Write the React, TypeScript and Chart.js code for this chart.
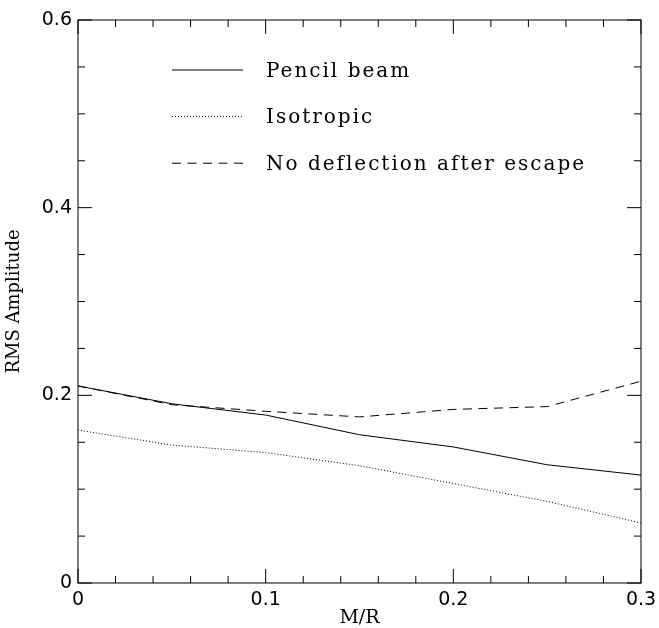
import React, { useEffect, useRef } from "react";
import { Chart, registerables } from "chart.js";

Chart.register(...registerables);

// ---- data ----
const mr = [0, 0.05, 0.1, 0.15, 0.2, 0.25, 0.3];
const pencilBeam = [0.21, 0.191, 0.179, 0.158, 0.145, 0.126, 0.115];
const isotropic = [0.163, 0.147, 0.139, 0.125, 0.106, 0.087, 0.064];
const noDeflection = [0.21, 0.19, 0.183, 0.177, 0.185, 0.188, 0.215];
const seriesNames = ["Pencil beam", "Isotropic", "No deflection after escape"];
const xTickLabels = ["0", "0.1", "0.2", "0.3"];
const yTickLabels = ["0", "0.2", "0.4", "0.6"];
const xAxisTitle = "M/R";
const yAxisTitle = "RMS Amplitude";

const X_MAX = 0.3;
const Y_MAX = 0.6;
const X_MAJOR = 0.1;
const X_MINOR_PER_MAJOR = 5;
const Y_MAJOR = 0.2;
const Y_MINOR_PER_MAJOR = 4;

const MAJOR_LEN = 14;
const MINOR_LEN = 7;

const framePlugin = {
  id: "frameTicks",
  afterDatasetsDraw(chart: any) {
    const { ctx, chartArea, scales } = chart;
    const { left, right, top, bottom } = chartArea;
    const xs = scales.x;
    const ys = scales.y;
    ctx.save();
    ctx.strokeStyle = "#000";
    ctx.lineWidth = 1;
    ctx.setLineDash([]);
    ctx.strokeRect(left, top, right - left, bottom - top);
    ctx.beginPath();
    const nx = Math.round((X_MAX / X_MAJOR) * X_MINOR_PER_MAJOR);
    for (let i = 0; i <= nx; i++) {
      const v = (i * X_MAJOR) / X_MINOR_PER_MAJOR;
      const px = xs.getPixelForValue(v);
      const len = i % X_MINOR_PER_MAJOR === 0 ? MAJOR_LEN : MINOR_LEN;
      ctx.moveTo(px, bottom);
      ctx.lineTo(px, bottom - len);
      ctx.moveTo(px, top);
      ctx.lineTo(px, top + len);
    }
    const ny = Math.round((Y_MAX / Y_MAJOR) * Y_MINOR_PER_MAJOR);
    for (let i = 0; i <= ny; i++) {
      const v = (i * Y_MAJOR) / Y_MINOR_PER_MAJOR;
      const py = ys.getPixelForValue(v);
      const len = i % Y_MINOR_PER_MAJOR === 0 ? MAJOR_LEN : MINOR_LEN;
      ctx.moveTo(left, py);
      ctx.lineTo(left + len, py);
      ctx.moveTo(right, py);
      ctx.lineTo(right - len, py);
    }
    ctx.stroke();
    ctx.restore();
  },
};

const legendPlugin = {
  id: "insideLegend",
  afterDatasetsDraw(chart: any) {
    const { ctx, chartArea } = chart;
    const { left, top } = chartArea;
    const x0 = left + 94;
    const x1 = left + 165;
    const tx = left + 188;
    const y0 = top + 50;
    const dy = 46.6;
    ctx.save();
    chart.data.datasets.forEach((ds: any, i: number) => {
      const y = y0 + i * dy;
      ctx.beginPath();
      ctx.strokeStyle = ds.borderColor;
      ctx.lineWidth = ds.borderWidth;
      ctx.setLineDash(ds.borderDash || []);
      ctx.moveTo(x0, y);
      ctx.lineTo(x1, y);
      ctx.stroke();
      ctx.setLineDash([]);
      ctx.fillStyle = "#000";
      ctx.font = "20px 'DejaVu Serif'";
      (ctx as any).letterSpacing = "2px";
      ctx.textBaseline = "alphabetic";
      ctx.textAlign = "left";
      ctx.fillText(ds.label, tx, y + 6.5);
    });
    ctx.restore();
  },
};

export default function App() {
  const ref = useRef<HTMLCanvasElement>(null);

  useEffect(() => {
    if (!ref.current) return;
    const mk = (vals: number[]) => mr.map((x, i) => ({ x, y: vals[i] }));
    const base = {
      borderColor: "#000",
      borderWidth: 1,
      pointRadius: 0,
      fill: false,
      tension: 0,
    };
    const chart = new Chart(ref.current, {
      type: "line",
      data: {
        datasets: [
          { ...base, label: seriesNames[0], data: mk(pencilBeam) },
          { ...base, label: seriesNames[1], data: mk(isotropic), borderDash: [1, 2] },
          { ...base, label: seriesNames[2], data: mk(noDeflection), borderDash: [9, 6.5] },
        ],
      },
      options: {
        responsive: false,
        animation: false,
        devicePixelRatio: 1,
        layout: { padding: { top: 20, right: 18, left: 0, bottom: 0 } },
        plugins: { legend: { display: false }, tooltip: { enabled: false } },
        scales: {
          x: {
            type: "linear",
            min: 0,
            max: X_MAX,
            grid: { display: false, drawTicks: false },
            border: { display: false },
            ticks: {
              stepSize: X_MAJOR,
              autoSkip: false,
              maxRotation: 0,
              padding: 6,
              color: "#000",
              font: { family: "'DejaVu Sans'", size: 19 },
              callback: (v: any) => {
                const idx = Math.round(Number(v) / X_MAJOR);
                return xTickLabels[idx] ?? "";
              },
            },
            title: {
              display: true,
              text: xAxisTitle,
              color: "#000",
              font: { family: "'DejaVu Serif'", size: 19, lineHeight: 1 },
              padding: { top: 0, bottom: 0 },
            },
            afterFit: (s: any) => {
              s.height = 45;
              s.paddingLeft = 0;
              s.paddingRight = 0;
            },
          },
          y: {
            type: "linear",
            min: 0,
            max: Y_MAX,
            grid: { display: false, drawTicks: false },
            border: { display: false },
            ticks: {
              stepSize: Y_MAJOR,
              autoSkip: false,
              padding: 6,
              color: "#000",
              font: { family: "'DejaVu Sans'", size: 19 },
              callback: (v: any) => {
                const idx = Math.round(Number(v) / Y_MAJOR);
                return yTickLabels[idx] ?? "";
              },
            },
            title: {
              display: true,
              text: yAxisTitle,
              color: "#000",
              font: { family: "'DejaVu Serif'", size: 18, lineHeight: 1 },
              padding: { top: 5, bottom: 0 },
            },
            afterFit: (s: any) => {
              s.width = 78;
              s.paddingTop = 0;
              s.paddingBottom = 0;
            },
          },
        },
      },
      plugins: [framePlugin, legendPlugin],
    } as any);
    return () => chart.destroy();
  }, []);

  return (
    <div style={{ position: "absolute", left: 0, top: 0, width: 659, height: 628, background: "#fff" }}>
      <canvas ref={ref} width={659} height={628} />
    </div>
  );
}
